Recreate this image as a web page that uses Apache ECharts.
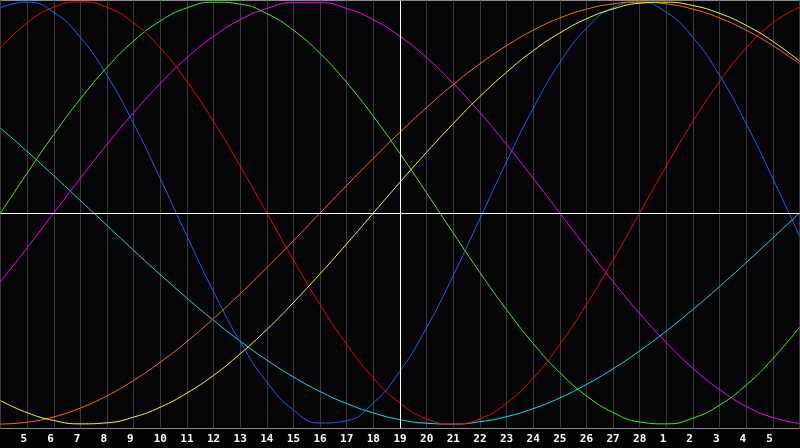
<!DOCTYPE html>
<html>
<head>
<meta charset="utf-8">
<script src="https://cdn.jsdelivr.net/npm/echarts@6/dist/echarts.min.js"></script>
<style>
  html, body { margin: 0; padding: 0; background: #000; }
  #chart { width: 800px; height: 448px; }
</style>
</head>
<body>
<div id="chart"></div>
<script>
// day labels, 4th of the month at the left edge up to the 6th of next month
const days = ['4','5','6','7','8','9','10','11','12','13','14','15','16','17','18','19',
  '20','21','22','23','24','25','26','27','28','1','2','3','4','5','6'];

// values, one per day (-1 .. 1)
const physical = [0.973,0.999,0.951,0.832,0.652,0.423,0.163,-0.109,-0.373,-0.610,-0.801,-0.933,-0.995,-0.984,-0.900,-0.749,
  -0.543,-0.296,-0.027,0.243,0.496,0.712,0.875,0.973,0.999,0.951,0.832,0.652,0.423,0.163,-0.109];
const emotional = [0.782,0.901,0.975,1,0.975,0.901,0.782,0.623,0.434,0.223,0,-0.223,-0.434,-0.623,-0.782,-0.901,
  -0.975,-1,-0.975,-0.901,-0.782,-0.623,-0.434,-0.223,0,0.223,0.434,0.623,0.782,0.901,0.975];
const intellectual = [0,0.189,0.372,0.541,0.690,0.815,0.910,0.972,0.999,0.990,0.945,0.866,0.756,0.618,0.458,0.282,
  0.095,-0.095,-0.282,-0.458,-0.618,-0.756,-0.866,-0.945,-0.990,-0.999,-0.972,-0.910,-0.815,-0.690,-0.541];
const intuitive = [-0.325,-0.165,0,0.165,0.325,0.476,0.614,0.736,0.837,0.916,0.969,0.997,0.997,0.969,0.916,0.837,
  0.736,0.614,0.476,0.325,0.165,0,-0.165,-0.325,-0.476,-0.614,-0.736,-0.837,-0.916,-0.969,-0.997];
const spiritual = [0.403,0.292,0.177,0.059,-0.059,-0.177,-0.292,-0.403,-0.509,-0.607,-0.697,-0.777,-0.846,-0.903,-0.947,-0.979,
  -0.996,-1,-0.989,-0.965,-0.927,-0.876,-0.812,-0.738,-0.653,-0.559,-0.457,-0.348,-0.235,-0.118,0];
const awareness = [-1,-0.991,-0.966,-0.924,-0.866,-0.793,-0.707,-0.609,-0.5,-0.383,-0.259,-0.131,0,0.131,0.259,0.383,
  0.5,0.609,0.707,0.793,0.866,0.924,0.966,0.991,1,0.991,0.966,0.924,0.866,0.793,0.707];
const aesthetic = [-0.889,-0.946,-0.983,-0.999,-0.994,-0.967,-0.920,-0.853,-0.769,-0.667,-0.552,-0.424,-0.288,-0.146,0,0.146,
  0.288,0.424,0.552,0.667,0.769,0.853,0.920,0.967,0.994,0.999,0.983,0.946,0.889,0.813,0.720];

const todayIndex = 15;

const chart = echarts.init(document.getElementById('chart'));

const line = (name, data, color) => ({
    name: name,
    type: 'line',
    data: data,
    smooth: true,
    symbol: 'none',
    silent: true,
    lineStyle: { color: color, width: 1 }
});

const series = [
    line('spiritual', spiritual, '#00e8f0'),
    line('intuitive', intuitive, '#ff00ff'),
    line('intellectual', intellectual, '#33ff00'),
    line('emotional', emotional, '#ff0000'),
    line('physical', physical, '#1466ff'),
    line('awareness', awareness, '#ff7000'),
    line('aesthetic', aesthetic, '#ffff00')
];
// white cross: today and the zero line
series[0].markLine = {
    silent: true,
    symbol: 'none',
    label: { show: false },
    lineStyle: { color: '#ffffff', width: 1, type: 'solid' },
    data: [{ xAxis: todayIndex }, { yAxis: 0 }]
};

const option = {
    animation: false,
    backgroundColor: '#000000',
    grid: {
        left: 0.5, right: 0.5, top: 0.5, bottom: 19.5,
        containLabel: false,
        outerBoundsMode: 'none',
        show: true,
        backgroundColor: '#050508',
        borderColor: '#8a8a8a',
        borderWidth: 1
    },
    xAxis: {
        type: 'category',
        data: days,
        boundaryGap: false,
        axisLine: { show: false },
        axisTick: { show: false },
        axisLabel: {
            interval: 0,
            color: '#ffffff',
            fontFamily: 'DejaVu Sans Mono',
            fontWeight: 'bold',
            fontSize: 11,
            margin: 5,
            formatter: (v, i) => {
                if (i === 0 || i === days.length - 1) return '';
                return v.length === 1 ? v + ' ' : v;
            }
        },
        splitLine: {
            show: true,
            interval: 0,
            lineStyle: { color: '#3a3a3a', width: 1 }
        }
    },
    yAxis: {
        type: 'value',
        min: -1.021,
        max: 1.007,
        axisLine: { show: false },
        axisTick: { show: false },
        axisLabel: { show: false },
        splitLine: { show: false }
    },
    series: series
};
chart.setOption(option);
</script>
</body>
</html>
